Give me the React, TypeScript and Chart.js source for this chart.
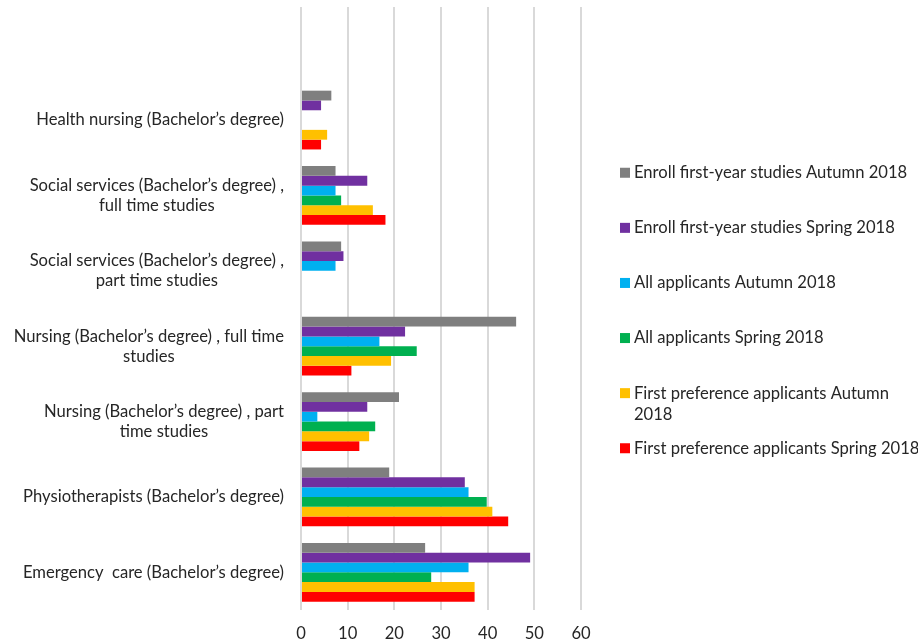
import React, { useEffect, useRef } from "react";
import { Chart, registerables } from "chart.js";

Chart.register(...registerables);

// Study programmes, top to bottom (the first row is an empty spacer row)
const categories: (string | string[])[] = [
  "",
  "Health nursing (Bachelor’s degree)",
  ["Social services (Bachelor’s degree) ,", "full time studies"],
  ["Social services (Bachelor’s degree) ,", "part time studies"],
  ["Nursing (Bachelor’s degree) , full time", "studies"],
  ["Nursing (Bachelor’s degree) , part", "time studies"],
  "Physiotherapists (Bachelor’s degree)",
  "Emergency  care (Bachelor’s degree)",
];

const enrollAutumn2018 = [null, 6.5, 7.4, 8.6, 46.1, 21.0, 18.9, 26.6];
const enrollSpring2018 = [null, 4.3, 14.2, 9.1, 22.3, 14.2, 35.1, 49.1];
const allApplicantsAutumn2018 = [null, null, 7.4, 7.4, 16.8, 3.5, 35.9, 35.9];
const allApplicantsSpring2018 = [null, null, 8.6, null, 24.8, 15.9, 39.8, 27.9];
const firstPrefAutumn2018 = [null, 5.6, 15.4, null, 19.3, 14.6, 41.0, 37.2];
const firstPrefSpring2018 = [null, 4.3, 18.1, null, 10.8, 12.5, 44.4, 37.2];

const seriesLabels: string[][] = [
  ["Enroll first-year studies Autumn 2018"],
  ["Enroll first-year studies Spring 2018"],
  ["All applicants Autumn 2018"],
  ["All applicants Spring 2018"],
  ["First preference applicants Autumn", "2018"],
  ["First preference applicants Spring 2018"],
];
const seriesValues = [
  enrollAutumn2018,
  enrollSpring2018,
  allApplicantsAutumn2018,
  allApplicantsSpring2018,
  firstPrefAutumn2018,
  firstPrefSpring2018,
];
const seriesColors = ["#7f7f7f", "#7030a0", "#00b0f0", "#00b050", "#ffc000", "#ff0000"];

const xTicks = [0, 10, 20, 30, 40, 50, 60];

const FONT = "Lato, 'Liberation Sans', sans-serif";
const TEXT = "#262626";
const FONT_SIZE = 16.6;

// Category labels: each block right-aligned to the axis, its lines centred on each other
const categoryLabelPlugin = {
  id: "categoryLabels",
  afterDraw(chart: any) {
    const { ctx, chartArea } = chart;
    const yScale = chart.scales.y;
    ctx.save();
    ctx.font = `${FONT_SIZE}px ${FONT}`;
    ctx.fillStyle = TEXT;
    ctx.textAlign = "center";
    ctx.textBaseline = "middle";
    const lineH = 20;
    categories.forEach((label, i) => {
      const lines = Array.isArray(label) ? label : [label];
      if (!lines.join("")) return;
      const widest = Math.max(...lines.map((l) => ctx.measureText(l).width));
      const cx = chartArea.left - 17 - widest / 2;
      const cy = yScale.getPixelForValue(i);
      const y0 = cy - ((lines.length - 1) * lineH) / 2;
      lines.forEach((l, j) => ctx.fillText(l, cx, y0 + j * lineH));
    });
    ctx.restore();
  },
};

// Legend column on the right, vertically centred on the plot
const sideLegendPlugin = {
  id: "sideLegend",
  afterDraw(chart: any) {
    const { ctx, chartArea } = chart;
    ctx.save();
    ctx.font = `${FONT_SIZE}px ${FONT}`;
    ctx.textAlign = "left";
    ctx.textBaseline = "middle";
    const spacing = 55.1;
    const midY = (chartArea.top + chartArea.bottom) / 2 + 2;
    const boxX = chartArea.right + 39;
    const textX = boxX + 14;
    chart.data.datasets.forEach((ds: any, i: number) => {
      const y = midY + (i - (chart.data.datasets.length - 1) / 2) * spacing;
      ctx.fillStyle = ds.backgroundColor;
      ctx.fillRect(boxX, y - 5, 10, 10);
      ctx.fillStyle = TEXT;
      seriesLabels[i].forEach((line, j) => ctx.fillText(line, textX, y + j * 21.3));
    });
    ctx.restore();
  },
};

export default function App() {
  const canvasRef = useRef<HTMLCanvasElement | null>(null);

  useEffect(() => {
    document.body.style.margin = "0";
    const canvas = canvasRef.current;
    if (!canvas) return;
    const chart = new Chart(canvas, {
      type: "bar",
      data: {
        labels: categories.map((c) => (Array.isArray(c) ? c.join(" ") : c)),
        datasets: seriesValues.map((values, i) => ({
          label: seriesLabels[i].join(" "),
          data: values,
          backgroundColor: seriesColors[i],
          borderWidth: 0,
          categoryPercentage: 0.78,
          barPercentage: 1,
        })),
      },
      options: {
        indexAxis: "y",
        animation: false,
        responsive: false,
        devicePixelRatio: 1,
        layout: { padding: { top: 7, right: 337, left: 0, bottom: 0 } },
        plugins: {
          legend: { display: false },
          tooltip: { enabled: false },
        },
        scales: {
          x: {
            type: "linear",
            position: "bottom",
            min: xTicks[0],
            max: xTicks[xTicks.length - 1],
            afterBuildTicks: (scale: any) => {
              scale.ticks = xTicks.map((v) => ({ value: v }));
            },
            afterFit: (scale: any) => {
              scale.height = 31;
            },
            grid: { color: "#d9d9d9", lineWidth: 2, drawTicks: false },
            border: { display: false },
            ticks: {
              color: TEXT,
              padding: 14,
              font: { family: FONT, size: FONT_SIZE },
            },
          },
          y: {
            type: "category",
            afterFit: (scale: any) => {
              scale.width = 301;
            },
            grid: { display: false },
            border: { display: false },
            ticks: { display: false },
          },
        },
      },
      plugins: [categoryLabelPlugin, sideLegendPlugin],
    } as any);
    return () => chart.destroy();
  }, []);

  return (
    <div style={{ width: 918, height: 641, background: "#fff" }}>
      <canvas ref={canvasRef} width={918} height={641} />
    </div>
  );
}
